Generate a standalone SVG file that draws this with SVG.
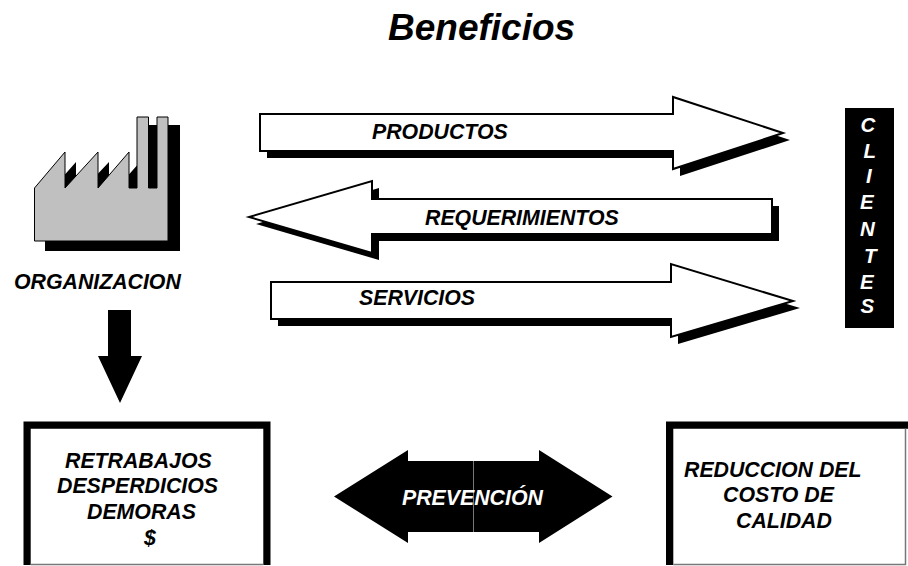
<svg xmlns="http://www.w3.org/2000/svg" width="908" height="566" viewBox="0 0 908 566">
<style>
text{font-family:"Liberation Sans",Arial,sans-serif;font-weight:bold;font-style:italic;fill:#000;font-size:21.300px}
text.w{fill:#fff}
text.t{font-size:37px}
text.c{font-size:20.500px}
.sh{fill:#000}
.ar{fill:#fff;stroke:#000;stroke-width:2}
.bar{fill:#000}
.edge{stroke:#777;stroke-width:1.500;fill:none}
</style>
<rect width="908" height="566" fill="#fff"/>
<text id="title" class="t" x="388" y="40">Beneficios</text>
<g id="organizacion">
<polygon class="sh" points="45,197 76,162 76,197 109,162 109,197 140,162 148,125 180,125 180,251 45,251"/>
<polygon fill="#c0c0c0" stroke="#000" stroke-width="1" points="34.5,188 65,152 65,188 98,152 98,188 129,152 129,188 137,188 137,117 148.500,117 148.500,188 157,188 157,117 168,117 168,241 34.500,241"/>
<text x="14" y="289">ORGANIZACION</text>
</g>
<g id="connectors">
<polygon id="down-arrow" fill="#000" points="108,310 131,310 131,356 142,356 120,403 98,356 108,356"/>
<g id="productos">
<polygon class="sh" transform="translate(7,7)" points="260,114 673,114 673,97 783,133 673,169 673,151 260,151"/>
<polygon class="ar" points="260,114 673,114 673,97 783,133 673,169 673,151 260,151"/>
<text x="372" y="139">PRODUCTOS</text>
</g>
<g id="requerimientos">
<polygon class="sh" transform="translate(7,7)" points="772,199 372,199 372,181 249,217 372,253 372,234 772,234"/>
<polygon class="ar" points="772,199 372,199 372,181 249,217 372,253 372,234 772,234"/>
<text x="425" y="225">REQUERIMIENTOS</text>
</g>
<g id="servicios">
<polygon class="sh" transform="translate(7,7)" points="271,282 671,282 671,264 793,301 671,337 671,319 271,319"/>
<polygon class="ar" points="271,282 671,282 671,264 793,301 671,337 671,319 271,319"/>
<text x="359" y="305">SERVICIOS</text>
</g>
<g id="prevencion">
<polygon fill="#000" points="334,496.500 408,450 408,461 539,461 539,450 612.500,496.500 539,543 539,532 408,532 408,543"/>
<line x1="473.500" y1="461" x2="473.500" y2="532" stroke="#777" stroke-width="1"/>
<text class="w" x="402" y="505">PREVENCIÓN</text>
</g>
</g>
<g id="clientes">
<rect x="845" y="108" width="49" height="220" fill="#000"/>
<text class="w c" x="860.500" y="131.500">C</text>
<text class="w c" x="863.500" y="158">L</text>
<text class="w c" x="866" y="183">I</text>
<text class="w c" x="860" y="209">E</text>
<text class="w c" x="860" y="236">N</text>
<text class="w c" x="864" y="262.500">T</text>
<text class="w c" x="860" y="289">E</text>
<text class="w c" x="860.500" y="313">S</text>
</g>
<g id="retrabajos">
<path class="bar" d="M23.500 421.500H270.500V565H263.300V428.700H30.700V565H23.500Z"/>
<path class="edge" d="M30.700 564.500H263.300"/>
<text x="65" y="468">RETRABAJOS</text>
<text x="57" y="493">DESPERDICIOS</text>
<text x="87" y="519">DEMORAS</text>
<text x="144" y="545">$</text>
</g>
<g id="reduccion">
<path class="bar" d="M666 421.500H908V428.700H673.300V565H666Z"/>
<path class="edge" d="M673.300 564.500H905.500V428.700"/>
<text x="684" y="477">REDUCCION DEL</text>
<text x="723" y="502">COSTO DE</text>
<text x="736" y="528">CALIDAD</text>
</g>
</svg>
